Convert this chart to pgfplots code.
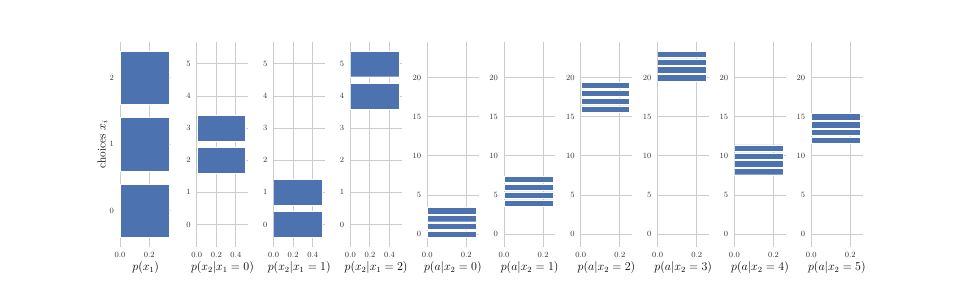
\documentclass[border=0pt]{standalone}
\usepackage{pgfplots}
\pgfplotsset{compat=1.18}
\definecolor{barblue}{HTML}{4C72B0}
\pgfplotsset{
 panel/.style={
  scale only axis, width=51.3pt, height=205pt, anchor=south west,
  axis line style={draw=none}, major tick length=0pt,
  grid=major, grid style={black!20, line width=0.9pt},
  xmin=0, enlargelimits=false,
  xbar, bar width=0.8,
  tick label style={font=\fontsize{7.6}{8.5}\selectfont, text=black!80},
  xticklabel style={anchor=base, yshift=-10.5pt, /pgf/number format/.cd, fixed, fixed zerofill, precision=1},
  yticklabel style={anchor=east, inner sep=0pt, xshift=-6pt},
  label style={font=\fontsize{11.5}{13}\selectfont},
  xlabel style={at={(axis description cs:0.5,-0.116)}, anchor=base},
 },
 bars/.style={fill=barblue, draw=white, line width=0.4pt},
 pa/.style={panel, xmax=0.35, xtick={0,0.2}, ymin=-0.54, ymax=2.54, ytick={0,1,2}},
 pb/.style={panel, xmax=0.525, xtick={0,0.2,0.4}, ymin=-0.69, ymax=5.69, ytick={0,1,2,3,4,5}},
 pc/.style={panel, xmax=0.2625, xtick={0,0.2}, ymin=-1.59, ymax=24.59, ytick={0,5,10,15,20}},
}
\begin{document}
\begin{tikzpicture}
\path[use as bounding box] (0,0) rectangle (958pt,282pt);

\begin{axis}[pa, at={(120pt,35.3pt)}, xlabel={$p(x_1)$}, ylabel={choices $x_i$},
  ylabel style={at={(axis description cs:-0.341,0.5)}, anchor=center}]
\addplot[bars] coordinates {(0.3333,0) (0.3333,1) (0.3333,2)};
\end{axis}

\begin{axis}[pb, at={(196.8pt,35.3pt)}, xlabel={$p(x_2|x_1=0)$}]
\addplot[bars] coordinates {(0.5,2) (0.5,3)};
\end{axis}

\begin{axis}[pb, at={(273.6pt,35.3pt)}, xlabel={$p(x_2|x_1=1)$}]
\addplot[bars] coordinates {(0.5,0) (0.5,1)};
\end{axis}

\begin{axis}[pb, at={(350.4pt,35.3pt)}, xlabel={$p(x_2|x_1=2)$}]
\addplot[bars] coordinates {(0.5,4) (0.5,5)};
\end{axis}

\begin{axis}[pc, at={(427.2pt,35.3pt)}, xlabel={$p(a|x_2=0)$}]
\addplot[bars] coordinates {(0.25,0) (0.25,1) (0.25,2) (0.25,3)};
\end{axis}

\begin{axis}[pc, at={(504pt,35.3pt)}, xlabel={$p(a|x_2=1)$}]
\addplot[bars] coordinates {(0.25,4) (0.25,5) (0.25,6) (0.25,7)};
\end{axis}

\begin{axis}[pc, at={(580.8pt,35.3pt)}, xlabel={$p(a|x_2=2)$}]
\addplot[bars] coordinates {(0.25,16) (0.25,17) (0.25,18) (0.25,19)};
\end{axis}

\begin{axis}[pc, at={(657.6pt,35.3pt)}, xlabel={$p(a|x_2=3)$}]
\addplot[bars] coordinates {(0.25,20) (0.25,21) (0.25,22) (0.25,23)};
\end{axis}

\begin{axis}[pc, at={(734.4pt,35.3pt)}, xlabel={$p(a|x_2=4)$}]
\addplot[bars] coordinates {(0.25,8) (0.25,9) (0.25,10) (0.25,11)};
\end{axis}

\begin{axis}[pc, at={(811.2pt,35.3pt)}, xlabel={$p(a|x_2=5)$}]
\addplot[bars] coordinates {(0.25,12) (0.25,13) (0.25,14) (0.25,15)};
\end{axis}
\end{tikzpicture}
\end{document}
